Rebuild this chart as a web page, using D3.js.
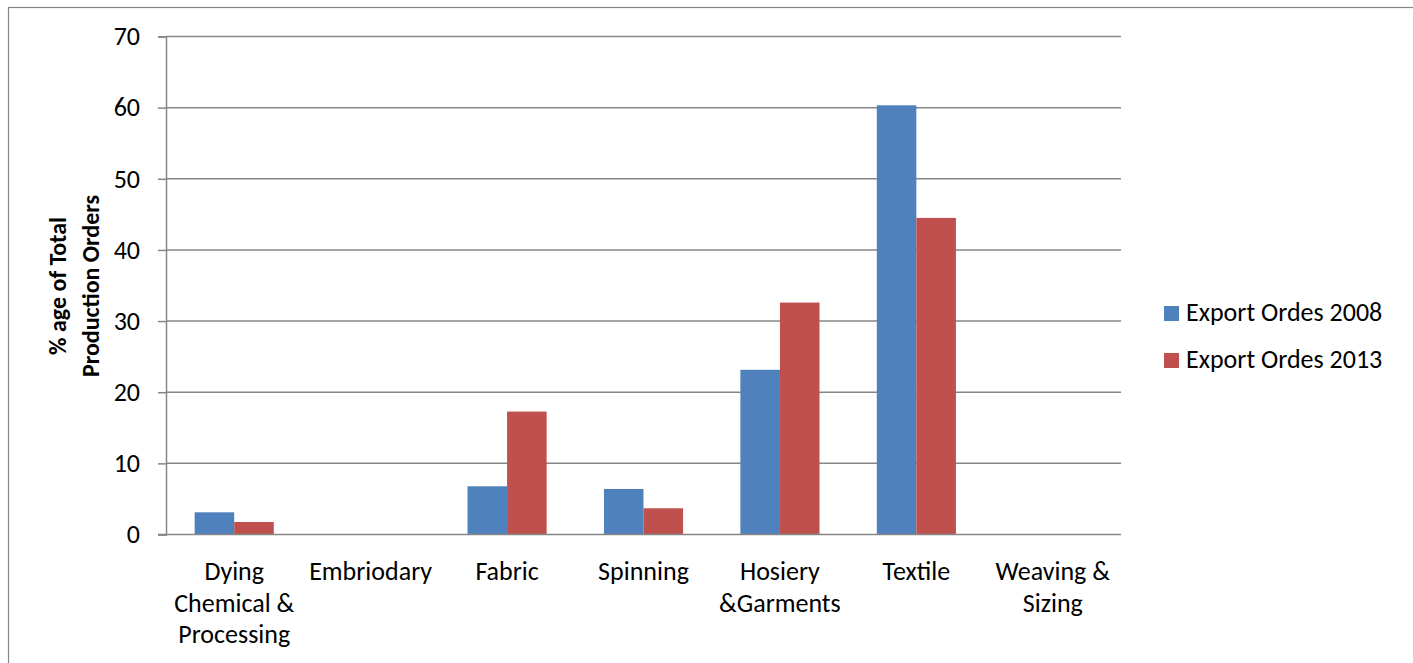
<!DOCTYPE html>
<html>
<head>
<meta charset="utf-8">
<script src="https://cdn.jsdelivr.net/npm/d3@7"></script>
<style>
  html, body { margin: 0; padding: 0; background: #fff; }
  svg { display: block; }
  text { font-family: Carlito, "Open Sans", sans-serif; fill: #000; }
</style>
</head>
<body>
<svg id="chart" width="1413" height="663"></svg>
<script>
const categories = ["Dying Chemical & Processing", "Embriodary", "Fabric", "Spinning", "Hosiery &Garments", "Textile", "Weaving & Sizing"];
const seriesNames = ["Export Ordes 2008", "Export Ordes 2013"];
const values2008 = [3.12, 0, 6.78, 6.4, 23.15, 60.33, 0];
const values2013 = [1.76, 0, 17.28, 3.69, 32.6, 44.5, 0];
const yTicks = [0, 10, 20, 30, 40, 50, 60, 70];
const colors = ["#4F81BD", "#C0504D"];
const yTitleLines = ["% age of Total", "Production Orders"];

const FS = 26;
const FONT = "Carlito, 'Open Sans', sans-serif";
const svg = d3.select("#chart");
const plot = { left: 166, right: 1121, top: 36.5, bottom: 534.5 };

// outer border
svg.append("rect").attr("x", 8.5).attr("y", 7.5).attr("width", 1420).attr("height", 700)
  .attr("fill", "none").attr("stroke", "#868686").attr("stroke-width", 1.2);

const y = d3.scaleLinear().domain([0, 70]).range([plot.bottom, plot.top]);
const x = d3.scaleBand().domain(categories).range([plot.left, plot.right])
  .paddingInner(0.42).paddingOuter(0.21);
const xs = d3.scaleBand().domain(seriesNames).range([0, x.bandwidth()]);

// gridlines
svg.append("g").selectAll("line").data(yTicks.filter(d => d > 0)).join("line")
  .attr("x1", plot.left).attr("x2", plot.right)
  .attr("y1", d => y(d)).attr("y2", d => y(d))
  .attr("stroke", "#868686").attr("stroke-width", 1.5);

// y axis
const yAxis = d3.axisLeft(y).tickValues(yTicks).tickSize(8).tickPadding(18);
const gy = svg.append("g").attr("transform", `translate(${plot.left},0)`).call(yAxis);
gy.select(".domain").attr("stroke", "#868686").attr("stroke-width", 1.5);
gy.selectAll(".tick line").attr("stroke", "#868686").attr("stroke-width", 1.5);
gy.selectAll(".tick text").attr("font-size", FS).attr("font-family", FONT).attr("fill", "#000");

// bars
const data = categories.map((c, i) => ({ cat: c, vals: [values2008[i], values2013[i]] }));
const groups = svg.append("g").selectAll("g").data(data).join("g")
  .attr("transform", d => `translate(${x(d.cat)},0)`);
groups.selectAll("rect").data(d => d.vals.map((v, j) => ({ v, s: seriesNames[j], j })))
  .join("rect")
  .attr("x", d => xs(d.s)).attr("width", xs.bandwidth())
  .attr("y", d => y(d.v)).attr("height", d => y(0) - y(d.v))
  .attr("fill", d => colors[d.j]);

// x axis line
svg.append("line").attr("x1", plot.left - 8).attr("x2", plot.right)
  .attr("y1", y(0)).attr("y2", y(0)).attr("stroke", "#868686").attr("stroke-width", 1.5);

// category labels with wrapping
function wrapLines(text, maxW, fontSize) {
  const tmp = svg.append("text").attr("font-size", fontSize);
  const words = text.split(" ");
  const lines = [];
  let cur = "";
  words.forEach(w => {
    const test = cur ? cur + " " + w : w;
    tmp.text(test);
    if (tmp.node().getComputedTextLength() > maxW && cur) { lines.push(cur); cur = w; }
    else cur = test;
  });
  if (cur) lines.push(cur);
  tmp.remove();
  return lines;
}
const labelG = svg.append("g");
categories.forEach(c => {
  const cx = x(c) + x.bandwidth() / 2;
  const lines = wrapLines(c, 134, FS);
  const t = labelG.append("text").attr("text-anchor", "middle").attr("font-size", FS);
  lines.forEach((l, i) => t.append("tspan").attr("x", cx).attr("y", 580 + i * 31.5).text(l));
});

// y title
const yt = svg.append("text").attr("transform", "translate(0,286) rotate(-90)")
  .attr("text-anchor", "middle").attr("font-size", 24).attr("font-weight", "bold");
yTitleLines.forEach((l, i) => yt.append("tspan").attr("x", 0).attr("y", 66 + i * 32.5).text(l));

// legend
const leg = svg.append("g").selectAll("g").data(seriesNames).join("g")
  .attr("transform", (d, i) => `translate(1164,${306 + i * 47})`);
leg.append("rect").attr("width", 15).attr("height", 15).attr("fill", (d, i) => colors[i]);
leg.append("text").attr("x", 22).attr("y", 15).attr("font-size", FS).text(d => d);
</script>
</body>
</html>
